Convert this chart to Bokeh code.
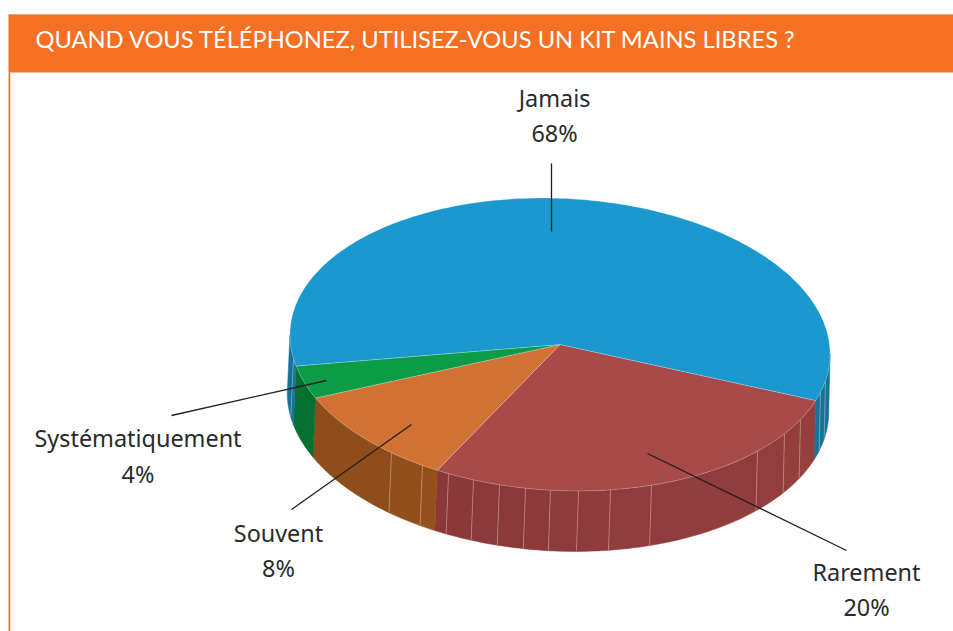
import math
from bokeh.plotting import figure
from bokeh.models import ColumnDataSource
from bokeh.core.properties import value
from bokeh.embed import file_html
from bokeh.resources import INLINE

TITLE = "QUAND VOUS TÉLÉPHONEZ, UTILISEZ-VOUS UN KIT MAINS LIBRES ?"
categories = ["Rarement", "Souvent", "Systématiquement", "Jamais"]
percent_labels = ["20%", "8%", "4%", "68%"]
# Share of the ellipse each slice takes as drawn (the picture does not follow its printed %)
drawn_share = [27.3, 10.5, 3.6, 58.6]
top_colors = ["#a94a4a", "#d07233", "#0c9c48", "#1b98cd"]
side_colors_start = ["#963f3f", "#96521b", "#067030", "#12739c"]
side_colors_end = ["#883739", "#8e4c1b", "#067030", "#12739c"]
# x of the seams seen on the rim of the side wall
seam_x = [825, 820, 800, 784, 757, 651, 610, 578, 550, 525, 499, 473, 448, 422, 391, 293]

START = 17.2
TILT = 0.05
CX, CY, RX, RY = 559.5, 344.0, 270.3, 146.0
BX, BY, BRX, BRY = 557.5, 402.0, 271.0, 148.5
VIS_FROM = -1.55
VIS_TO = 178.45

def ell(t, cx, cy, rx, ry):
    r = math.radians(t)
    ex, ey = rx * math.cos(r), ry * math.sin(r)
    return (cx + ex * math.cos(TILT) - ey * math.sin(TILT),
            cy + ex * math.sin(TILT) + ey * math.cos(TILT))

def top(t):
    return ell(t, CX, CY, RX, RY)

def bottom(t):
    return ell(t, BX, BY, BRX, BRY)

def frange(a, b, step=1.0):
    n = max(2, int(abs(b - a) / step) + 1)
    return [a + (b - a) * i / (n - 1) for i in range(n)]

def mix(c1, c2, f):
    a = [int(c1[i:i + 2], 16) for i in (1, 3, 5)]
    b = [int(c2[i:i + 2], 16) for i in (1, 3, 5)]
    return "#%02x%02x%02x" % tuple(round(x + (y - x) * f) for x, y in zip(a, b))

def t_of_x(x):
    lo, hi = VIS_FROM, VIS_TO
    for _ in range(40):
        mid = (lo + hi) / 2
        if top(mid)[0] > x:
            lo = mid
        else:
            hi = mid
    return (lo + hi) / 2

# Slice bounds from the shares
bounds = []
t = START
for s in drawn_share:
    bounds.append((t, t + s * 3.6))
    t += s * 3.6

p = figure(width=953, height=631, x_range=(0, 953), y_range=(631, 0),
           toolbar_location=None, output_backend="svg", min_border=0,
           x_axis_type=None, y_axis_type=None, outline_line_color=None,
           background_fill_color="white", border_fill_color="white")
p.grid.visible = False

# Header band and left rule
p.quad(left=[8], right=[953], top=[14], bottom=[72], fill_color="#f57023", line_color=None)
p.segment(x0=[8], x1=[953], y0=[14], y1=[14], line_color="#f8a57a", line_width=1)
p.quad(left=[8], right=[9.8], top=[72], bottom=[631], fill_color="#f57023", line_color=None)
p.text(x=[35], y=[38.5], text=[TITLE], text_font=value("Lato"),
       text_font_size="23.7px", text_color="white", text_baseline="alphabetic", text_align="left")

# Side wall facets
seam_t = [t_of_x(x) for x in seam_x]
xs, ys, cols, sx0, sy0, sx1, sy1 = [], [], [], [], [], [], []
vis = []
for i, (a, b) in enumerate(bounds):
    for lo, hi in ((a, b), (a - 360, b - 360)):
        l, h = max(lo, VIS_FROM), min(hi, VIS_TO)
        if h > l:
            vis.append((l, h, i))
for l, h, i in vis:
    cuts = [l] + sorted(s for s in seam_t if l < s < h) + [h]
    for j in range(len(cuts) - 1):
        u, v = cuts[j], cuts[j + 1]
        f = (j + 0.5) / (len(cuts) - 1)
        upper = [top(q) for q in frange(u, v)]
        lower = [bottom(q) for q in frange(v, u)]
        pts = upper + lower
        xs.append([q[0] for q in pts])
        ys.append([q[1] for q in pts])
        cols.append(mix(side_colors_start[i], side_colors_end[i], f))
        if j > 0:
            sx0.append(top(u)[0]); sy0.append(top(u)[1])
            sx1.append(bottom(u)[0]); sy1.append(bottom(u)[1])
p.patches(xs="xs", ys="ys", fill_color="cols", line_color="cols", line_width=0.5,
          source=ColumnDataSource(dict(xs=xs, ys=ys, cols=cols)))
p.segment(x0=sx0, y0=sy0, x1=sx1, y1=sy1, line_color="#e8c0b8", line_alpha=0.45, line_width=1)

# Top face
txs, tys = [], []
for a, b in bounds:
    pts = [top(q) for q in frange(a, b)]
    txs.append([CX] + [q[0] for q in pts])
    tys.append([CY] + [q[1] for q in pts])
p.patches(xs=txs, ys=tys, fill_color=top_colors, line_color="#ffffff", line_alpha=0.3, line_width=0.7)

# Leader lines
leader_x0 = [647, 291, 171, 551]
leader_y0 = [453, 509, 415, 163]
leader_x1 = [846, 411, 326, 551]
leader_y1 = [550, 424, 380, 231]
p.segment(x0=leader_x0, y0=leader_y0, x1=leader_x1, y1=leader_y1, line_color="#231f20", line_width=1.3)

# Labels
label_x = [866, 278, 137.5, 554]
name_y = [571, 532, 437, 97]
pct_y = [606, 567, 473, 132]
FONT = value("Noto Sans")
p.text(x=label_x, y=name_y, text=categories, text_font=FONT, text_font_size="23.4px",
       text_color="#2b2a29", text_align="center", text_baseline="alphabetic")
p.text(x=label_x, y=pct_y, text=percent_labels, text_font=FONT, text_font_size="23.4px",
       text_color="#2b2a29", text_align="center", text_baseline="alphabetic")

open("out.html", "w").write(file_html(p, INLINE))
